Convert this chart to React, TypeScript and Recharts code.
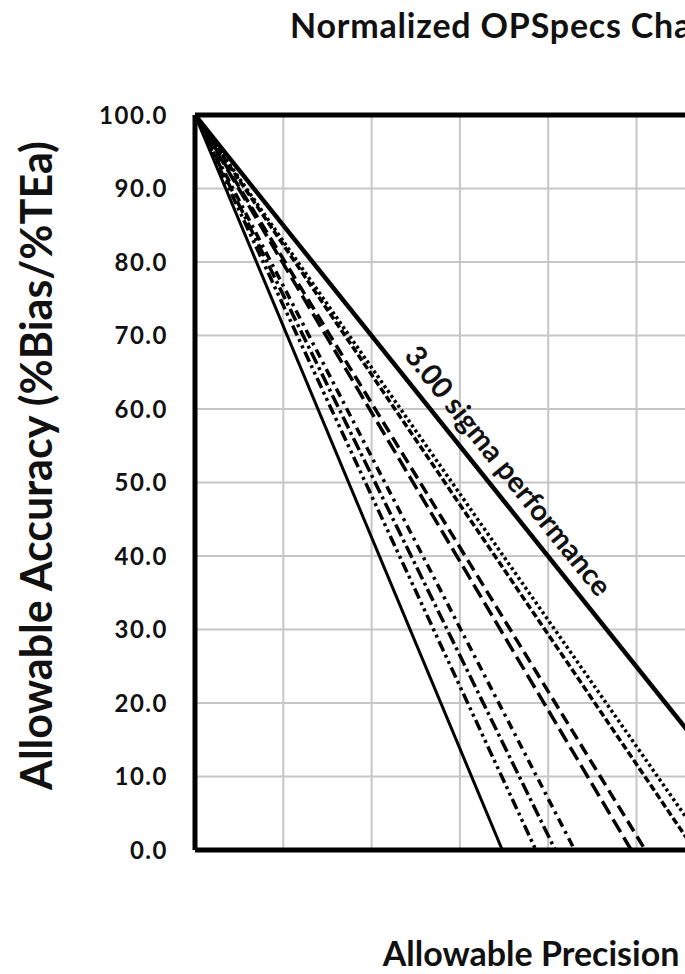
import {
	CartesianGrid,
	Line,
	LineChart,
	ReferenceDot,
	ReferenceLine,
	XAxis,
	YAxis,
} from "recharts";

// allowable precision (%CV/%TEa) axis
const xTicks = [0, 5, 10, 15, 20, 25, 30, 35, 40, 45, 50];
// allowable accuracy (%Bias/%TEa) axis
const yTicks = [0, 10, 20, 30, 40, 50, 60, 70, 80, 90, 100];

// every operating line starts at 100% bias with 0% CV
const startAccuracy = 100;
const lineKeys = [
	"rule1",
	"rule2",
	"rule3",
	"rule4",
	"rule5",
	"rule6",
	"rule7",
	"rule8",
	"sigma3",
];
// where each line reaches 0% bias
const xIntercepts = [17.4, 19.3, 20.4, 21.5, 24.7, 25.5, 28.3, 29.1, 33.3];

const sigmaLabel = "3.00 sigma performance";

const STYLES = [
	{ width: 3, dash: undefined },
	{ width: 3.5, dash: "11 4 3 4 3 4" },
	{ width: 3.5, dash: "13 4 3 4" },
	{ width: 3.5, dash: "9 5 3 5" },
	{ width: 3.5, dash: "15 6" },
	{ width: 3.5, dash: "12 6" },
	{ width: 3.5, dash: "7 3" },
	{ width: 3.5, dash: "3 3" },
	{ width: 4.5, dash: undefined },
];

const FONT = "Lato, 'Open Sans', sans-serif";
const INK = "#111";

const series = lineKeys.map((key, i) => ({
	key,
	data: [
		{ x: 0, y: startAccuracy },
		{ x: xIntercepts[i], y: 0 },
	],
}));

const SigmaText = (props: any) => (
	<text
		x={props.cx}
		y={props.cy}
		transform={`rotate(51.3 ${props.cx} ${props.cy})`}
		textAnchor="middle"
		dominantBaseline="central"
		fontFamily={FONT}
		fontWeight={700}
		fontSize={29}
		fill={INK}
	>
		{sigmaLabel}
	</text>
);

// x ticks stay in the axis (so the grid gets them) but draw nothing
const NoTick = () => <g />;

const App = () => {
	return (
		<div
			style={{
				position: "absolute",
				left: 0,
				top: 0,
				width: 685,
				height: 974,
				overflow: "hidden",
				background: "#fff",
			}}
		>
			<div
				style={{
					position: "absolute",
					left: 290,
					top: 8,
					fontFamily: FONT,
					fontWeight: 700,
					fontSize: 34,
					letterSpacing: 0.8,
					lineHeight: 1,
					color: INK,
					whiteSpace: "nowrap",
				}}
			>
				Normalized OPSpecs Chart
			</div>
			<LineChart
				width={1100}
				height={974}
				margin={{ top: 115, right: 22, left: 0, bottom: 0 }}
			>
				<CartesianGrid stroke="#c6c6c6" strokeWidth={2} />
				<XAxis
					type="number"
					dataKey="x"
					domain={[0, 50]}
					ticks={xTicks}
					interval={0}
					tick={NoTick}
					tickLine={false}
					axisLine={{ stroke: "#000", strokeWidth: 5 }}
					height={124}
					allowDataOverflow
					label={{
						content: ({ viewBox }: any) => (
							<text
								x={viewBox.x + viewBox.width / 2 - 6}
								y={966}
								textAnchor="middle"
								fontFamily={FONT}
								fontWeight={700}
								fontSize={34}
								fill={INK}
							>
								Allowable Precision (%CV/%TEa)
							</text>
						),
					}}
				/>
				<YAxis
					type="number"
					dataKey="y"
					domain={[0, 100]}
					ticks={yTicks}
					interval={0}
					tickFormatter={(v: number) => v.toFixed(1)}
					tick={{
						fill: INK,
						fontFamily: FONT,
						fontWeight: 700,
						fontSize: 24,
						letterSpacing: 1.5,
					}}
					tickLine={false}
					tickSize={0}
					tickMargin={27}
					axisLine={{ stroke: "#000", strokeWidth: 5 }}
					width={195}
					label={{
						content: ({ viewBox }: any) => {
							const cx = viewBox.x + 52;
							const cy = viewBox.y + viewBox.height / 2 - 17;
							return (
								<text
									x={cx}
									y={cy}
									transform={`rotate(-90 ${cx} ${cy})`}
									textAnchor="middle"
									fontFamily={FONT}
									fontWeight={700}
									fontSize={43}
									fill={INK}
								>
									Allowable Accuracy (%Bias/%TEa)
								</text>
							);
						},
					}}
				/>
				<ReferenceLine y={100} stroke="#000" strokeWidth={5} />
				<ReferenceLine x={50} stroke="#000" strokeWidth={5} />
				{series.map((s, i) => (
					<Line
						key={s.key}
						data={s.data}
						dataKey="y"
						type="linear"
						stroke="#000"
						strokeWidth={STYLES[i].width}
						strokeDasharray={STYLES[i].dash}
						dot={false}
						activeDot={false}
						isAnimationActive={false}
					/>
				))}
				<ReferenceDot x={17.8} y={51.7} r={0} shape={SigmaText} />
			</LineChart>
		</div>
	);
};

export default App;
